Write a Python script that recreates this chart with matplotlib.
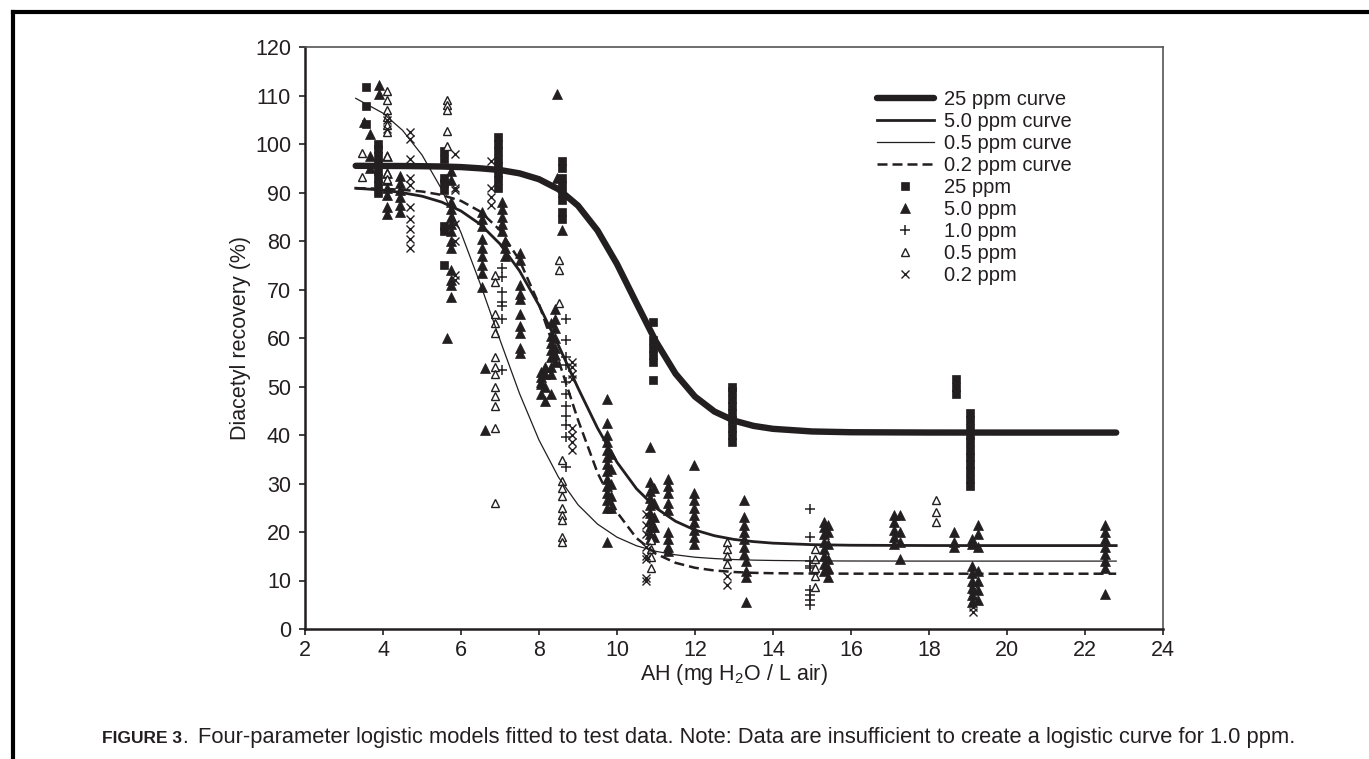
import matplotlib
matplotlib.use('Agg')
import matplotlib.pyplot as plt
from matplotlib.lines import Line2D

plt.rcParams['font.family'] = ['Liberation Sans', 'DejaVu Sans']
plt.rcParams['mathtext.fontset'] = 'custom'
plt.rcParams['mathtext.rm'] = 'Liberation Sans'
plt.rcParams['mathtext.it'] = 'Liberation Sans:italic'

ink = '#231f20'

# fitted logistic curves
ah_curve = [3.3, 4.0, 4.5, 5.0, 5.5, 6.0, 6.5, 7.0, 7.5, 8.0, 8.5, 9.0, 9.5, 10.0,
            10.5, 11.0, 11.5, 12.0, 12.5, 13.0, 13.5, 14.0, 15.0, 16.0, 18.0, 20.0, 22.8]
curve_25 = [95.5, 95.48, 95.46, 95.42, 95.36, 95.24, 94.98, 94.64, 93.95, 92.74, 90.67, 87.29, 82.17, 75.25,
            67.18, 59.24, 52.65, 47.91, 44.83, 42.96, 41.88, 41.27, 40.73, 40.57, 40.51, 40.5, 40.5]
curve_50 = [90.88, 90.49, 89.95, 89.24, 88.04, 86.19, 83.41, 79.39, 73.86, 66.76, 58.46, 49.70, 41.43, 34.39,
            28.92, 24.95, 22.22, 20.40, 19.23, 18.47, 18.02, 17.70, 17.39, 17.27, 17.21, 17.2, 17.2]
curve_05 = [109.42, 106.36, 102.83, 97.74, 90.73, 81.71, 71.04, 59.60, 48.56, 38.95, 31.29, 25.62, 21.63, 18.93,
            17.16, 16.01, 15.30, 14.80, 14.52, 14.32, 14.20, 14.13, 14.05, 14.02, 14.0, 14.0, 14.0]
curve_02 = [90.9, 90.77, 90.55, 90.20, 89.51, 88.27, 86.05, 82.22, 76.03, 66.96, 55.41, 43.11, 32.23, 24.09,
            18.74, 15.50, 13.65, 12.62, 12.06, 11.75, 11.58, 11.50, 11.43, 11.41, 11.4, 11.4, 11.4]

# 25 ppm
ah_25 = [3.57, 3.57, 3.57,
         3.88, 3.88, 3.88, 3.88, 3.88, 3.88, 3.88, 3.88,
         5.56, 5.56, 5.56, 5.56, 5.56, 5.56, 5.56, 5.56,
         6.95, 6.95, 6.95, 6.95, 6.95, 6.95, 6.95, 6.95,
         8.6, 8.6, 8.6, 8.6, 8.6, 8.6, 8.6, 8.6,
         10.92, 10.92, 10.92, 10.92, 10.92, 10.92,
         12.95, 12.95, 12.95, 12.95, 12.95, 12.95, 12.95, 12.95, 12.95,
         18.68, 18.68, 18.68,
         19.06, 19.06, 19.06, 19.06, 19.06, 19.06, 19.06, 19.06, 19.06, 19.06, 19.06]
rec_25 = [111.8, 107.8, 104.1,
          90, 91.5, 93, 94.5, 96, 97.5, 99, 100,
          75, 82, 83, 90.5, 92, 93, 97, 98.5,
          91, 92.5, 94, 95.5, 97, 98.5, 100, 101.5,
          84.5, 86, 88.5, 90, 91.5, 93, 95, 96.5,
          51.3, 55, 56.5, 58, 59.5, 63.4,
          38.5, 40, 41.5, 43, 44.5, 46, 47.5, 49, 50,
          48.5, 50, 51.5,
          29.5, 31, 32.5, 34, 35.5, 37, 38.5, 40, 41.5, 43, 44.5]

# 5.0 ppm
ah_50 = [3.50, 3.67, 3.67, 3.67, 3.90, 3.90,
         4.10, 4.10, 4.10, 4.10, 4.10, 4.10, 4.10,
         4.44, 4.44, 4.44, 4.44, 4.44, 4.44,
         5.75, 5.75, 5.75, 5.75, 5.75, 5.75, 5.75, 5.75, 5.75, 5.75, 5.75, 5.75, 5.75, 5.63,
         6.55, 6.55, 6.55, 6.55, 6.55, 6.55, 6.55, 6.55, 6.55, 6.62, 6.62,
         7.05, 7.05, 7.05, 7.05, 7.05, 7.12, 7.12, 7.12,
         7.52, 7.52, 7.52, 7.52, 7.52, 7.52, 7.52, 7.52, 7.52, 7.52,
         8.05, 8.05, 8.05, 8.05, 8.05, 8.15, 8.15, 8.15, 8.15,
         8.30, 8.30, 8.30, 8.30, 8.30, 8.30, 8.30, 8.30,
         8.40, 8.40, 8.40, 8.40, 8.40, 8.40, 8.40,
         8.45, 8.45, 8.59,
         9.75, 9.75, 9.75, 9.75, 9.75, 9.75, 9.75, 9.75, 9.75, 9.75, 9.75, 9.75, 9.75, 9.75,
         9.85, 9.85, 9.85, 9.85, 9.85,
         10.85, 10.85, 10.85, 10.85, 10.85, 10.85, 10.85, 10.85, 10.85, 10.85,
         10.95, 10.95, 10.95, 10.95, 10.95,
         11.30, 11.30, 11.30, 11.30, 11.30, 11.30, 11.30, 11.30, 11.30,
         11.97, 11.97, 11.97, 11.97, 11.97, 11.97, 11.97, 11.97, 11.97,
         13.25, 13.25, 13.25, 13.25, 13.25, 13.25, 13.25, 13.30, 13.30, 13.30, 13.30,
         15.30, 15.30, 15.30, 15.30, 15.30, 15.30, 15.30, 15.30,
         15.40, 15.40, 15.40, 15.40, 15.40, 15.40,
         17.10, 17.10, 17.10, 17.10, 17.10, 17.25, 17.25, 17.25, 17.25,
         18.65, 18.65, 18.65,
         19.10, 19.10, 19.10, 19.10, 19.10, 19.10, 19.10, 19.10,
         19.25, 19.25, 19.25, 19.25, 19.25, 19.25, 19.25,
         22.50, 22.50, 22.50, 22.50, 22.50, 22.50, 22.50, 22.50]
rec_50 = [104.5, 102, 97.5, 95, 112.2, 110.3,
          97.5, 94, 92.5, 91, 89.5, 87, 85.5,
          86, 87.5, 89, 90.5, 92, 93.5,
          94.5, 92.5, 88, 86.5, 85, 83.5, 82, 80, 78.5, 74, 72, 71, 68.5, 60,
          86, 84.5, 83, 80.5, 78.5, 77, 75, 73.5, 70.5, 53.8, 41,
          88, 86.5, 85, 83.5, 82, 80, 78.5, 77,
          77.5, 76, 71, 69, 68, 65, 62.5, 61, 58, 57,
          53, 52, 51, 50.5, 48.5, 54, 52.5, 50, 47,
          63, 60.5, 59, 57.5, 56, 54, 52.5, 48.5,
          66, 64, 62, 60, 58, 56.5, 55,
          110.3, 93, 82.3,
          47.5, 42.5, 40, 38.5, 37, 35.5, 34, 32.5, 31, 29.5, 28, 26.5, 25, 18,
          36, 33, 30, 27.5, 25,
          37.5, 30.3, 28.5, 27, 25.5, 24, 22.5, 21, 19.5, 18.5,
          29, 26, 23, 21, 19,
          31, 29.5, 28, 26, 24.5, 20, 18.5, 17, 16,
          33.8, 28, 26.5, 25, 23.5, 22, 20.5, 19, 17.5,
          26.5, 23, 21.5, 20, 18.5, 17, 15.5, 14, 12, 10.7, 5.5,
          22, 21, 19.5, 18, 16.5, 15, 13.5, 12,
          21.5, 20, 17.5, 14.5, 12.5, 10.7,
          23.5, 22, 20.5, 19, 17.5, 23.5, 20, 18, 14.4,
          20, 18, 17,
          18.5, 17.5, 13, 11.5, 10, 8.5, 7, 5.5,
          21.5, 19.5, 17, 12, 10, 8, 6,
          21.5, 20, 18.5, 17, 15.5, 14, 12.5, 7.2]

# 1.0 ppm
ah_10 = [7.05, 7.05, 7.05, 7.05, 7.05, 7.05, 7.05,
         8.70, 8.70, 8.70, 8.70, 8.70, 8.70, 8.70, 8.70, 8.70, 8.70, 8.70,
         14.94, 14.94, 14.94, 14.94, 14.94, 14.94, 14.94, 14.94, 14.94]
rec_10 = [74.5, 72.5, 69.5, 67.5, 66.5, 64, 53.5,
          64, 59.5, 56, 54.5, 51, 48.5, 46, 44, 42, 39.5, 33.5,
          24.7, 18.9, 14, 13, 12.5, 8, 7, 6, 5]

# 0.5 ppm
ah_05 = [3.47, 3.47,
         4.10, 4.10, 4.10, 4.10, 4.10, 4.10, 4.10, 4.10, 4.10,
         5.63, 5.63, 5.63, 5.63, 5.63,
         6.87, 6.87, 6.87, 6.87, 6.87, 6.87, 6.87, 6.87, 6.87, 6.87, 6.87, 6.87, 6.87,
         8.50, 8.50, 8.50,
         8.60, 8.60, 8.60, 8.60, 8.60, 8.60, 8.60, 8.60, 8.60,
         10.87, 10.87, 10.87, 10.87,
         12.81, 12.81, 12.81, 12.81,
         15.07, 15.07, 15.07, 15.07, 15.07,
         18.19, 18.19, 18.19]
rec_05 = [98.2, 93.1,
          111, 109, 107, 105.5, 104, 102.5, 97.5, 94, 92.7,
          109, 108, 107, 102.6, 99.5,
          73, 71.5, 65, 63, 61, 56, 54, 52.5, 50, 48, 46, 41.4, 26,
          76, 74, 67.2,
          34.8, 30.5, 29, 27.5, 25, 23.5, 22.5, 19, 18,
          18.4, 16.5, 14.8, 12.6,
          18, 16.5, 15, 13.5,
          16.5, 14.5, 12.5, 11, 8.6,
          26.5, 24.1, 22]

# 0.2 ppm
ah_02 = [4.10, 4.10,
         4.69, 4.69, 4.69, 4.69, 4.69, 4.69, 4.69, 4.69, 4.69, 4.69,
         5.85, 5.85, 5.85, 5.85, 5.85, 5.85, 5.85,
         6.76, 6.76, 6.76, 6.76,
         8.85, 8.85, 8.85, 8.85, 8.85, 8.85, 8.85, 8.85,
         10.74, 10.74, 10.74, 10.74, 10.74, 10.74, 10.74, 10.74,
         12.83, 12.83,
         19.14, 19.14, 19.14, 19.14]
rec_02 = [105, 103,
          102.5, 101, 97, 93, 91.5, 87, 84.5, 82.5, 80.5, 78.5,
          98, 91, 90.5, 83.5, 80, 73, 72,
          96.5, 91, 89, 87.5,
          55, 54, 52.5, 51.5, 41.5, 40, 38.5, 37,
          23.7, 21.5, 19.5, 17, 15, 14.5, 10.5, 10,
          11, 9,
          8, 6, 4.5, 3.5]

curve_labels = ['25 ppm curve', '5.0 ppm curve', '0.5 ppm curve', '0.2 ppm curve']
point_labels = ['25 ppm', '5.0 ppm', '1.0 ppm', '0.5 ppm', '0.2 ppm']

fig = plt.figure(figsize=(13.69, 7.59), dpi=100)
ax = fig.add_axes([305/1369, 1-629/759, 858/1369, 582/759])

ms_sq = dict(marker='s', ms=5.6, mfc=ink, mec=ink, mew=0.5, ls='none')
ms_tri = dict(marker='^', ms=6.6, mfc=ink, mec=ink, mew=0.5, ls='none')
ms_plus = dict(marker='+', ms=7.5, mec=ink, mew=1.1, ls='none')
ms_open = dict(marker='^', ms=5.6, mfc='white', mec=ink, mew=1.0, ls='none')
ms_x = dict(marker='x', ms=5.2, mec=ink, mew=1.0, ls='none')

ax.plot(ah_25, rec_25, **ms_sq)
ax.plot(ah_50, rec_50, **ms_tri)
ax.plot(ah_10, rec_10, **ms_plus)
ax.plot(ah_05, rec_05, **ms_open)
ax.plot(ah_02, rec_02, **ms_x)

ax.plot(ah_curve, curve_25, color=ink, lw=4.6, solid_capstyle='round', solid_joinstyle='round')
ax.plot(ah_curve, curve_50, color=ink, lw=2.0, solid_joinstyle='round')
ax.plot(ah_curve, curve_05, color=ink, lw=0.9, solid_joinstyle='round')
ax.plot(ah_curve, curve_02, color=ink, lw=1.8, dashes=(4.0, 2.0))

ax.set_xlim(2, 24)
ax.set_ylim(0, 120)
ax.set_xticks(range(2, 25, 2))
ax.set_yticks(range(0, 121, 10))
ax.tick_params(axis='both', direction='out', length=4.5, width=1.2, color=ink,
               labelsize=15.5, labelcolor=ink)
ax.tick_params(axis='x', pad=3.5)
ax.tick_params(axis='y', pad=5.5)
for side in ['left', 'bottom']:
    ax.spines[side].set_linewidth(1.8)
    ax.spines[side].set_color(ink)
for side in ['top', 'right']:
    ax.spines[side].set_linewidth(1.2)
    ax.spines[side].set_color('#555555')

ax.set_ylabel('Diacetyl recovery (%)', fontsize=15.5, color=ink, labelpad=3)
ax.set_xlabel(r'AH (mg H$_\mathrm{2}$O / L air)', fontsize=15.5, color=ink, labelpad=0.5)

handles = [Line2D([], [], color=ink, lw=4.6, solid_capstyle='round'),
           Line2D([], [], color=ink, lw=2.0),
           Line2D([], [], color=ink, lw=0.9),
           Line2D([], [], color=ink, lw=1.8, dashes=(4.0, 2.0)),
           Line2D([], [], **ms_sq),
           Line2D([], [], **ms_tri),
           Line2D([], [], **ms_plus),
           Line2D([], [], **ms_open),
           Line2D([], [], **ms_x)]
leg = ax.legend(handles, curve_labels + point_labels, loc='upper left',
                bbox_to_anchor=(0.667, 0.926), frameon=False, fontsize=14.5,
                handlelength=2.8, handletextpad=0.5, labelspacing=0.15,
                borderaxespad=0, borderpad=0, numpoints=1)
for t in leg.get_texts():
    t.set_color(ink)

# page frame
fig.add_artist(Line2D([13/1369, 13/1369], [0, 1-12/759], color='black', lw=3.0,
                      transform=fig.transFigure))
fig.add_artist(Line2D([13/1369, 1], [1-12/759, 1-12/759], color='black', lw=3.0,
                      transform=fig.transFigure, solid_capstyle='projecting'))

# caption, bold lead then plain text on the same baseline
cap_y = 1 - 743/759
cap1 = fig.text(102/1369, cap_y, 'FIGURE 3', fontsize=12.5, fontweight='bold',
                color=ink, va='baseline', ha='left')
fig.canvas.draw()
bb = cap1.get_window_extent()
fig.text(bb.x1/1369, cap_y, '.', fontsize=15.0, color=ink, va='baseline', ha='left')
fig.text(198/1369, cap_y, 'Four-parameter logistic models fitted to test data. Note: Data are '
         'insufficient to create a logistic curve for 1.0 ppm.',
         fontsize=15.75, color=ink, va='baseline', ha='left')

fig.savefig('out.png', dpi=100)
